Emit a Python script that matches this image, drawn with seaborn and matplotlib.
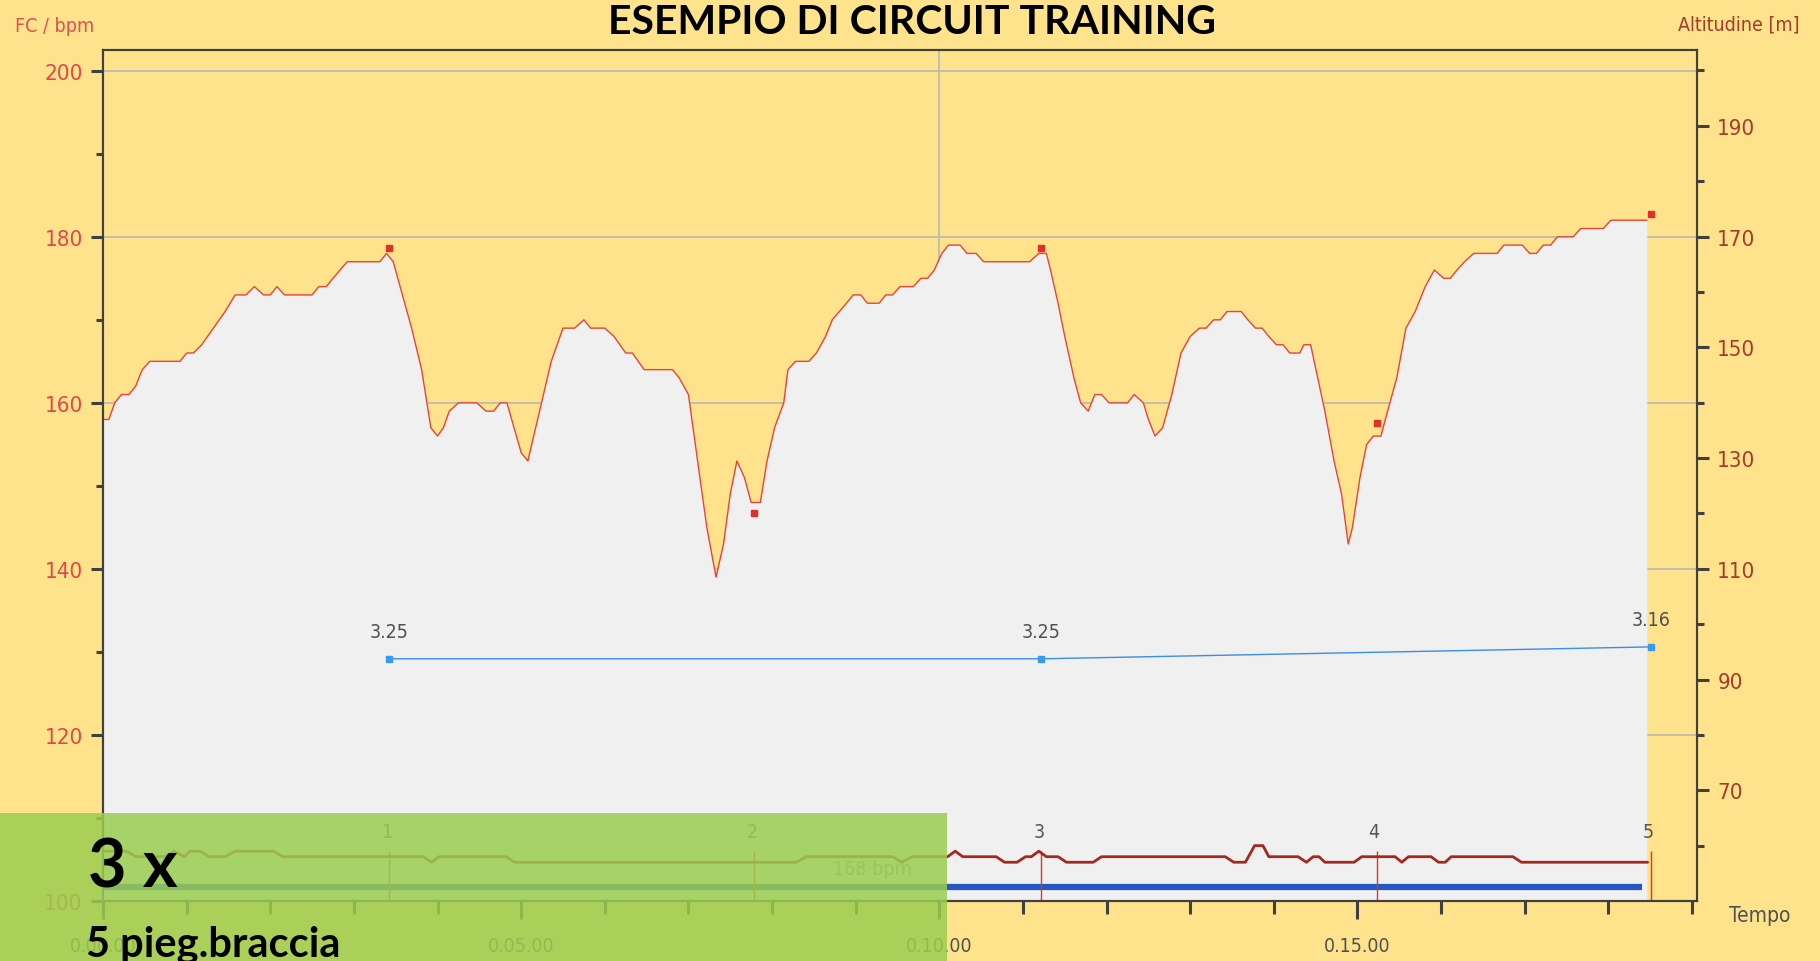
import numpy as np
import pandas as pd
import matplotlib
matplotlib.use('Agg')
import matplotlib.pyplot as plt
import seaborn as sns
from matplotlib.patches import Rectangle
from matplotlib.ticker import MultipleLocator, FixedLocator, FuncFormatter

# Frequenza cardiaca (tempo in minuti, bpm)
hr_time = [0.00, 0.07, 0.14, 0.22, 0.31, 0.39, 0.47, 0.56, 0.92, 1.00, 1.08, 1.18, 1.32, 1.46,
           1.58, 1.71, 1.81, 1.92, 2.00, 2.08, 2.17, 2.50, 2.58, 2.67, 2.75, 2.92, 3.31, 3.39,
           3.47, 3.58, 3.69, 3.81, 3.92, 4.00, 4.07, 4.14, 4.25, 4.47, 4.58, 4.67, 4.75, 4.83,
           5.00, 5.08, 5.22, 5.36, 5.50, 5.64, 5.75, 5.83, 6.00, 6.11, 6.25, 6.33, 6.47, 6.81,
           6.89, 7.00, 7.11, 7.22, 7.33, 7.42, 7.50, 7.58, 7.67, 7.75, 7.86, 7.94, 8.03, 8.14,
           8.19, 8.28, 8.44, 8.53, 8.64, 8.72, 8.89, 8.97, 9.06, 9.14, 9.28, 9.36, 9.44, 9.53,
           9.69, 9.78, 9.86, 9.94, 10.03, 10.11, 10.25, 10.33, 10.44, 10.53, 11.08, 11.19, 11.28,
           11.33, 11.42, 11.50, 11.61, 11.69, 11.78, 11.86, 11.94, 12.03, 12.25, 12.33, 12.44,
           12.50, 12.58, 12.67, 12.78, 12.89, 13.00, 13.11, 13.19, 13.28, 13.36, 13.44, 13.61,
           13.69, 13.78, 13.86, 13.94, 14.03, 14.11, 14.19, 14.31, 14.36, 14.44, 14.61, 14.72,
           14.81, 14.89, 14.94, 15.03, 15.11, 15.19, 15.28, 15.36, 15.47, 15.58, 15.69, 15.81,
           15.92, 16.03, 16.11, 16.19, 16.28, 16.39, 16.67, 16.75, 16.97, 17.06, 17.14, 17.22,
           17.31, 17.39, 17.58, 17.67, 17.94, 18.03, 18.46]
hr_bpm = [158, 158, 160, 161, 161, 162, 164, 165, 165, 166, 166, 167, 169, 171,
          173, 173, 174, 173, 173, 174, 173, 173, 174, 174, 175, 177, 177, 178,
          177, 173, 169, 164, 157, 156, 157, 159, 160, 160, 159, 159, 160, 160,
          154, 153, 159, 165, 169, 169, 170, 169, 169, 168, 166, 166, 164, 164,
          163, 161, 153, 145, 139, 143, 149, 153, 151, 148, 148, 153, 157, 160,
          164, 165, 165, 166, 168, 170, 172, 173, 173, 172, 172, 173, 173, 174,
          174, 175, 175, 176, 178, 179, 179, 178, 178, 177, 177, 178, 178,
          176, 172, 168, 163, 160, 159, 161, 161, 160, 160, 161, 160,
          158, 156, 157, 161, 166, 168, 169, 169, 170, 170, 171, 171,
          170, 169, 169, 168, 167, 167, 166, 166, 167, 167, 159, 153,
          149, 143, 145, 151, 155, 156, 156, 159, 163, 169, 171, 174,
          176, 175, 175, 176, 177, 178, 178, 179, 179, 178, 178, 179,
          179, 180, 180, 181, 181, 182, 182]

# Altitudine (m)
alt_time = [0.00, 0.28, 0.40, 0.74, 0.85, 0.97, 1.04, 1.16, 1.27, 1.46, 1.58, 2.04, 2.15, 3.83,
            3.93, 4.02, 4.82, 4.92, 8.29, 8.41, 9.44, 9.55, 9.68, 10.10, 10.19, 10.28, 10.68,
            10.78, 10.93, 11.03, 11.10, 11.19, 11.28, 11.42, 11.52, 11.84, 11.94, 13.42, 13.52,
            13.66, 13.77, 13.87, 13.94, 14.29, 14.39, 14.47, 14.54, 14.61, 14.96, 15.05, 15.45,
            15.53, 15.61, 15.88, 15.97, 16.05, 16.12, 16.86, 16.96, 18.47]
alt_m = [59, 59, 58, 58, 59, 58, 59, 59, 58, 58, 59, 59, 58, 58,
         57, 58, 58, 57, 57, 58, 58, 57, 58, 58, 59, 58, 58,
         57, 57, 58, 58, 59, 58, 58, 57, 57, 58, 58, 57,
         57, 60, 60, 58, 58, 57, 58, 58, 57, 57, 58, 58,
         57, 58, 58, 57, 57, 58, 58, 57, 57]

# Giri
lap_time = [3.42, 7.79, 11.22, 15.23, 18.51]
lap_label = ['1', '2', '3', '4', '5']
lap_hr = [178.7, 146.7, 178.7, 157.6, 182.7]
pace_time = [3.42, 11.22, 18.51]
pace_val = [3.25, 3.25, 3.16]
avg_bar_end = 18.40
avg_hr_text = '168 bpm'
alt_ticks = [70, 90, 110, 130, 150, 170, 190]

yellow = '#fee38c'
cond = ['Liberation Sans Narrow', 'DejaVu Sans']

sns.set_theme(style='white')
plt.rcParams['font.family'] = cond
plt.rcParams['font.stretch'] = 'condensed'

fig = plt.figure(figsize=(18.2, 9.62), dpi=100)
fig.patch.set_facecolor(yellow)
ax = fig.add_axes([103 / 1820, 60 / 962, 1594 / 1820, 851 / 962])
ax.set_facecolor(yellow)

df_hr = pd.DataFrame({'t': hr_time, 'hr': hr_bpm})
df_alt = pd.DataFrame({'t': alt_time, 'alt': alt_m})

# Area FC
ax.fill_between(df_hr['t'], df_hr['hr'], 100, color='#f0f0f0', zorder=1, linewidth=0)
sns.lineplot(data=df_hr, x='t', y='hr', ax=ax, color='#e8443a', linewidth=1.0, zorder=2)
ax.plot(lap_time, lap_hr, 's', color='#e0302a', markersize=4, zorder=3)

ax.set_xlim(0, 19.06)
ax.set_ylim(100, 202.5)
ax.set_axisbelow(True)
ax.yaxis.set_major_locator(MultipleLocator(20))
ax.yaxis.set_minor_locator(MultipleLocator(10))
ax.xaxis.set_major_locator(MultipleLocator(5))
ax.xaxis.set_minor_locator(MultipleLocator(1))
ax.xaxis.set_major_formatter(FuncFormatter(lambda v, p: '0.%02d.00' % int(round(v))))
ax.grid(True, which='major', axis='y', color='#b8b8b8', linewidth=1.2)
ax.axvline(10, color='#b8b8b8', linewidth=1.2, zorder=0.5)
ax.set_xlabel('')
ax.set_ylabel('')

# Barra media e giri
ax.hlines(101.7, 0, avg_bar_end, color='#2656c2', linewidth=4.5, zorder=3)
ax.text(9.2, 103.9, avg_hr_text, ha='center', va='center', fontsize=14, color='#9a9a9a')
ax.vlines(lap_time, 100, 106.0, color='#e8302a', linewidth=1.0, zorder=3)
for t, lab in zip(lap_time, lap_label):
    ax.text(t - 0.03, 108.4, lab, ha='center', va='center', fontsize=14, color='#555555')

for s in ax.spines.values():
    s.set_color('#404040')
    s.set_linewidth(1.5)
ax.tick_params(axis='y', which='major', length=8.6, width=2.2, color='#404040',
               labelcolor='#e04848', labelsize=16, pad=6, left=True)
ax.tick_params(axis='y', which='minor', length=5, width=2.2, color='#404040', left=True)
ax.tick_params(axis='x', which='major', length=13, width=2.2, color='#404040',
               labelcolor='#505050', labelsize=14, pad=12, bottom=True)
ax.tick_params(axis='x', which='minor', length=9.4, width=2.2, color='#404040', bottom=True)

# Asse altitudine
ax2 = ax.twinx()
sns.lineplot(data=df_alt, x='t', y='alt', ax=ax2, color='#a3281e', linewidth=2.0, zorder=3)
ax2.set_ylim(50, 203.7)
ax2.set_xlim(0, 19.06)
ax2.yaxis.set_major_locator(FixedLocator(alt_ticks))
ax2.yaxis.set_minor_locator(FixedLocator([60, 80, 100, 120, 140, 160, 180, 200]))
ax2.set_ylabel('')
ax2.tick_params(axis='y', which='major', length=8.6, width=2.2, color='#404040',
                labelcolor='#a83a2a', labelsize=16, pad=6, right=True)
ax2.tick_params(axis='y', which='minor', length=5, width=2.2, color='#404040', right=True)
for s in ax2.spines.values():
    s.set_color('#404040')
    s.set_linewidth(1.5)

# Passo (asse nascosto)
ax3 = ax.twinx()
ax3.plot(pace_time, pace_val, color='#3a8ee8', linewidth=1.0)
ax3.plot(pace_time, pace_val, 's', color='#3a9af0', markersize=4)
ax3.set_ylim(5.08, -1.35)
ax3.set_xlim(0, 19.06)
ax3.axis('off')
for t, v in zip(pace_time, pace_val):
    ax3.annotate('%.2f' % v, (t, v), xytext=(0, 20), textcoords='offset points',
                 ha='center', va='center', fontsize=14, color='#505050')

# Titoli
fig.text(0.501, 1 - 22 / 962, 'ESEMPIO DI CIRCUIT TRAINING', ha='center', va='center',
         fontsize=29.5, fontweight='bold', family='Lato', color='black')
fig.text(15 / 1820, 1 - 27 / 962, 'FC / bpm', ha='left', va='center', fontsize=14, color='#e05050')
fig.text(1800 / 1820, 1 - 25 / 962, 'Altitudine [m]', ha='right', va='center', fontsize=14,
         color='#a83a2a')
fig.text(1760 / 1820, 1 - 916 / 962, 'Tempo', ha='center', va='center', fontsize=15, color='#505050')

# Riquadro verde
fig.patches.append(Rectangle((0, 0), 947 / 1820, 148 / 962, transform=fig.transFigure,
                             facecolor='#9bcd50', alpha=0.85, edgecolor='none', zorder=10))
fig.text(88 / 1820, 1 - 869 / 962, '3 x', ha='left', va='center', fontsize=48,
         fontweight='bold', family='Lato', color='black', zorder=11)
fig.text(86 / 1820, 5 / 962, '5 pieg.braccia', ha='left', va='baseline', fontsize=30,
         fontweight='bold', family='Lato', color='black', zorder=11)

fig.savefig('out.png', dpi=100, facecolor=yellow)
